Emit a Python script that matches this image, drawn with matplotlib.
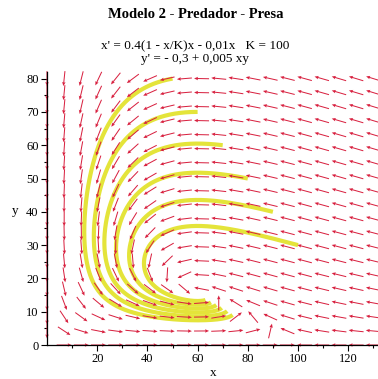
import numpy as np
import matplotlib
matplotlib.use("Agg")
import matplotlib.pyplot as plt

# model parameters (from the title)
r = 0.4
K = 100
a = 0.01
d = 0.3
b = 0.005

# initial conditions of the yellow trajectories
x0s = [50, 60, 70, 80, 90, 100]
y0s = [80, 70, 60, 50, 40, 30]
t_end = 20

# direction field grid
x_grid = np.linspace(0, 130, 20)
y_grid = np.linspace(0, 80, 20)

x_ticks = [20, 40, 60, 80, 100, 120]
y_ticks = [0, 10, 20, 30, 40, 50, 60, 70, 80]


def field(x, y):
    return r * (1 - x / K) * x - a * x * y, -d * y + b * x * y


def solve(x, y, t_end, dt=0.01):
    xs, ys = [x], [y]
    for _ in range(int(t_end / dt)):
        k1 = field(x, y)
        k2 = field(x + dt / 2 * k1[0], y + dt / 2 * k1[1])
        k3 = field(x + dt / 2 * k2[0], y + dt / 2 * k2[1])
        k4 = field(x + dt * k3[0], y + dt * k3[1])
        x += dt / 6 * (k1[0] + 2 * k2[0] + 2 * k3[0] + k4[0])
        y += dt / 6 * (k1[1] + 2 * k2[1] + 2 * k3[1] + k4[1])
        xs.append(x)
        ys.append(y)
    return np.array(xs), np.array(ys)


W, H = 378, 379
fig = plt.figure(figsize=(W / 100, H / 100), dpi=100)

# pixel mapping: x=0 -> 47px, 2.51 px/unit ; y=0 -> 345px, 3.33 px/unit
sx, sy = 2.51, 3.33
xmin, xmax = -1.0, (W - 47) / sx
ymin, ymax = -2.0, 82.0
left = (47 + xmin * sx) / W
bottom = (H - (345 - ymin * sy)) / H
ax = fig.add_axes([left, bottom, (xmax - xmin) * sx / W, (ymax - ymin) * sy / H])
ax.set_xlim(xmin, xmax)
ax.set_ylim(ymin, ymax)

serif = "Liberation Serif"

# trajectories
for x0, y0 in zip(x0s, y0s):
    xs, ys = solve(x0, y0, t_end)
    ax.plot(xs, ys, color="#e4e43a", lw=3.0, solid_capstyle="butt", zorder=2)

# direction field, fixed arrow length in pixels
X, Y = np.meshgrid(x_grid, y_grid)
U, V = field(X, Y)
px, py = U * sx, V * sy
n = np.hypot(px, py)
n[n == 0] = np.nan
L = 15.0
DU = L * px / n / sx
DV = L * py / n / sy
ax.quiver(X, Y, DU, DV, angles="xy", scale_units="xy", scale=1, pivot="middle",
          color="#d8203f", units="dots", width=1.0, headwidth=3.5, headlength=4,
          headaxislength=3.5, zorder=3, clip_on=False)

# Maple-like axes crossing at the origin
for s in ["top", "right"]:
    ax.spines[s].set_visible(False)
ax.spines["left"].set_position(("data", 0))
ax.spines["bottom"].set_position(("data", 0))
ax.spines["left"].set_bounds(0, 82)
ax.spines["bottom"].set_bounds(0, xmax)
for s in ["left", "bottom"]:
    ax.spines[s].set_linewidth(0.9)
    ax.spines[s].set_zorder(4)
ax.set_xticks(x_ticks)
ax.set_xticks(np.arange(10, 131, 10), minor=True)
ax.set_yticks(y_ticks)
ax.set_yticks(np.arange(5, 81, 5), minor=True)
ax.tick_params(which="major", direction="out", length=4, width=0.8, pad=2)
ax.tick_params(which="minor", direction="out", length=2.5, width=0.8)
ax.set_xticklabels([str(v) for v in x_ticks], fontfamily=serif, fontsize=9)
ax.set_yticklabels([str(v) for v in y_ticks], fontfamily=serif, fontsize=9)
ax.patch.set_visible(False)

# labels and title
fig.text(15 / W, 1 - 211 / H, "y", fontfamily=serif, fontsize=9.5, ha="center", va="center")
fig.text(213 / W, 1 - 373 / H, "x", fontfamily=serif, fontsize=9.5, ha="center", va="center")
fig.text(196 / W, 1 - 15 / H, "Modelo 2 - Predador - Presa", fontfamily=serif,
         fontsize=10.5, fontweight="bold", ha="center", va="center")
fig.text(195 / W, 1 - 46 / H, "x' = 0.4(1 - x/K)x - 0,01x   K = 100", fontfamily=serif,
         fontsize=9.5, ha="center", va="center")
fig.text(195 / W, 1 - 59 / H, "y' = - 0,3 + 0,005 xy", fontfamily=serif,
         fontsize=9.5, ha="center", va="center")

fig.savefig("out.png", dpi=100)
